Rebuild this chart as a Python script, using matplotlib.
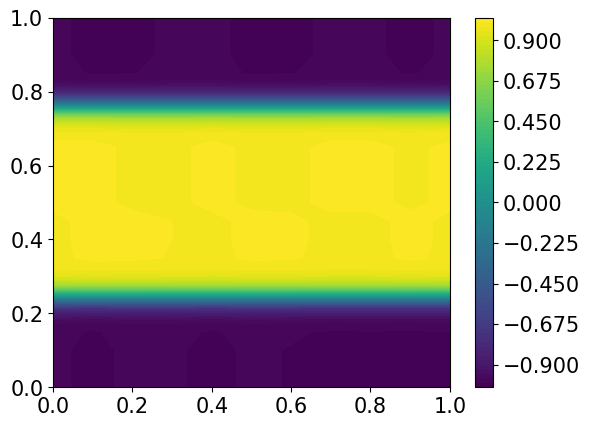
import numpy as np
import matplotlib
matplotlib.use('Agg')
from matplotlib import pyplot as plt

plt.rcParams['font.size'] = 15

# grid
x = [0.0, 0.1, 0.2, 0.3, 0.4, 0.5, 0.6, 0.7, 0.8, 0.9, 1.0]
y = [0.0, 0.05, 0.1, 0.15, 0.1625, 0.175, 0.1875, 0.2, 0.2125, 0.225, 0.2375,
     0.25, 0.2625, 0.275, 0.2875, 0.3, 0.3125, 0.325, 0.35, 0.4, 0.45, 0.5,
     0.55, 0.6, 0.65, 0.675, 0.6875, 0.7, 0.7125, 0.725, 0.7375, 0.75, 0.7625,
     0.775, 0.7875, 0.8, 0.8125, 0.825, 0.8375, 0.85, 0.9, 0.95, 1.0]

# u(y)
u_profile = [-1.0, -1.0, -1.0, -0.997, -0.99, -0.975, -0.94, -0.867, -0.76,
             -0.53, -0.22, 0.146, 0.46, 0.71, 0.85, 0.925, 0.965, 0.988, 0.999, 1.0,
             1.0, 1.0, 1.0, 1.0, 1.0, 0.994, 0.978, 0.945, 0.88, 0.77, 0.58,
             0.28, -0.07, -0.41, -0.66, -0.83, -0.92, -0.97, -0.99, -0.997,
             -1.0, -1.0, -1.0]

# small wiggles of the plateaus along x (relative)
bump_bottom = [-0.004, 0.005, -0.004, -0.003, 0.005, -0.003, 0.001, 0.005, 0.004, 0.005, 0.003]
bump_mid_lo = [-0.004, 0.005, 0.004, 0.0, -0.004, 0.004, 0.003, -0.004, -0.004, 0.004, -0.003]
bump_mid_hi = [0.004, 0.004, -0.003, -0.004, 0.004, -0.003, -0.004, 0.004, 0.004, -0.003, 0.003]
bump_top = [-0.004, 0.005, 0.004, -0.003, -0.004, 0.005, 0.004, -0.003, -0.003, 0.005, -0.003]

yy = np.array(y)
bump = np.where((yy < 0.25)[:, None], bump_bottom,
       np.where((yy < 0.5)[:, None], bump_mid_lo,
       np.where((yy < 0.75)[:, None], bump_mid_hi, bump_top)))

X, Y = np.meshgrid(x, y)
prof = np.array(u_profile)[:, None]
U = prof * (1 + bump)

levels = np.arange(-41, 42) * 0.025

fig = plt.figure(figsize=(6.4, 4.8))
cs = plt.contourf(X, Y, U, levels=levels, cmap='viridis')
plt.colorbar(cs)
plt.savefig('out.png', bbox_inches='tight')
